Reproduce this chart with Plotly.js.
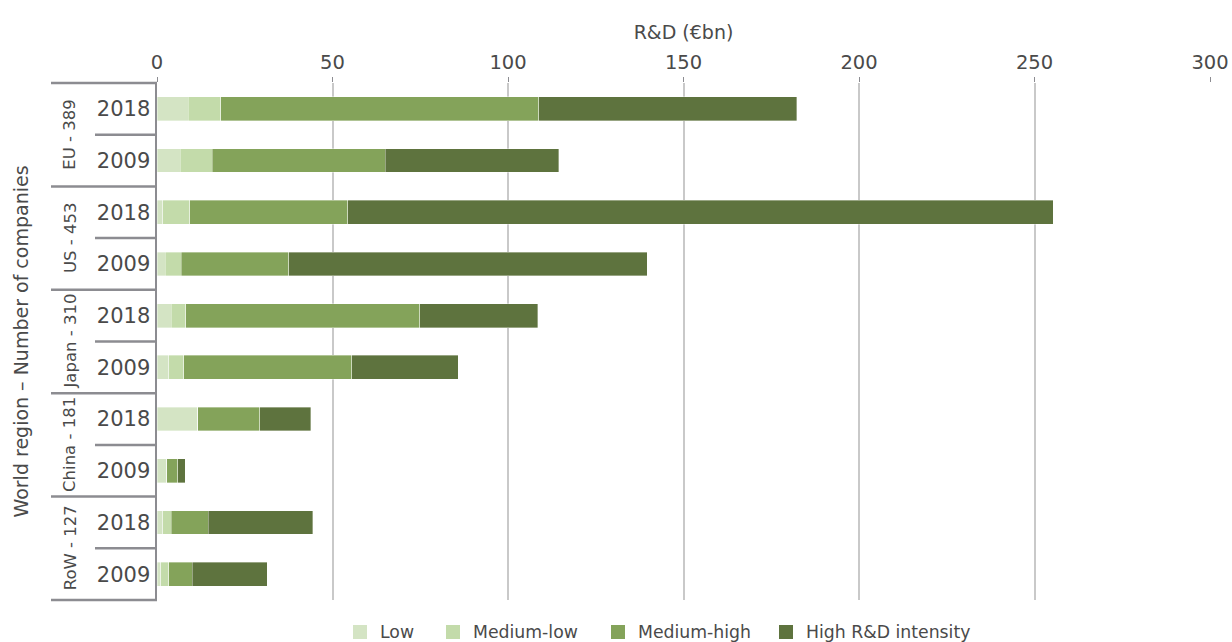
<!DOCTYPE html>
<html>
<head>
<meta charset="utf-8">
<script src="https://cdn.plot.ly/plotly-3.0.1.min.js"></script>
<style>html,body{margin:0;padding:0;background:#fff;}#chart{width:1232px;height:642px;}</style>
</head>
<body>
<div id="chart"></div>
<script>
// Regions (with number of companies) and years, top to bottom
const regions = ['EU - 389', 'US - 453', 'Japan - 310', 'China - 181', 'RoW - 127'];
const years = ['2018', '2009'];
// Values in € bn, order: EU 2018, EU 2009, US 2018, US 2009, Japan 2018, Japan 2009, China 2018, China 2009, RoW 2018, RoW 2009
const low        = [8.9, 6.6, 1.7, 2.3, 4.1, 3.4, 11.6, 2.8, 1.7, 1.0];
const mediumLow  = [9.2, 9.2, 7.6, 4.6, 4.1, 4.2, 0.0, 0.0, 2.4, 2.4];
const mediumHigh = [90.7, 49.2, 45.1, 30.6, 66.6, 47.9, 17.7, 3.1, 10.5, 6.6];
const high       = [73.5, 49.5, 200.9, 102.1, 33.7, 30.3, 14.5, 2.2, 29.8, 21.4];
const seriesNames = ['Low', 'Medium-low', 'Medium-high', 'High R&D intensity'];
const colors = ['#d4e4c4', '#c3dbaa', '#84a35a', '#5e733e'];
const xTicks = [0, 50, 100, 150, 200, 250, 300];

const FONT = 'DejaVu Sans, Verdana, sans-serif';
const TXT = '#4a4a4a';
const W = 1232, H = 642, ML = 157, MR = 22, MT = 83, MB = 42;
const PW = W - ML - MR, PH = H - MT - MB;

const cats = [];
const yearLabels = [];
regions.forEach(r => years.forEach(y => { cats.push(r + '|' + y); yearLabels.push(y); }));
const n = cats.length;

const vals = [low, mediumLow, mediumHigh, high];
const traces = vals.map((v, i) => ({
  type: 'bar', orientation: 'h', name: seriesNames[i],
  y: cats, x: v,
  marker: {color: colors[i], line: {color: 'rgba(255,255,255,0.6)', width: 0.6}},
  hoverinfo: 'x+name'
}));

const shapes = [];
const annotations = [];
const lineStyle = {color: '#8c8c91', width: 2.5};
// region boundaries (long) and year separators (short)
for (let k = 0; k <= n; k++) {
  const yp = 1 - k / n;
  const isRegion = k % years.length === 0;
  shapes.push({type: 'line', xref: 'paper', yref: 'paper',
    x0: isRegion ? (51 - ML) / PW : (95 - ML) / PW, x1: 0, y0: yp, y1: yp, line: lineStyle});
}
regions.forEach((r, i) => {
  annotations.push({xref: 'paper', yref: 'paper', x: (70 - ML) / PW, y: 1 - (i * years.length + years.length / 2) / n,
    text: r, showarrow: false, textangle: -90, xanchor: 'center', yanchor: 'middle',
    font: {family: FONT, size: 16.5, color: TXT}});
});
// y-axis title
annotations.push({xref: 'paper', yref: 'paper', x: (20 - ML) / PW, y: 0.5, xanchor: 'center', yanchor: 'middle',
  text: 'World region \u2013 Number of companies', showarrow: false, textangle: -90,
  font: {family: FONT, size: 19, color: TXT}});

// legend (squares + labels) below the plot
const legendLeftPx = [353, 446, 611, 779];
const SQ = 14, legendCenterPx = 632;
seriesNames.forEach((name, i) => {
  const x0 = (legendLeftPx[i] - ML) / PW;
  const yc = -(legendCenterPx - (H - MB)) / PH;
  shapes.push({type: 'rect', xref: 'paper', yref: 'paper', x0: x0, x1: x0 + SQ / PW,
    y0: yc - SQ / 2 / PH, y1: yc + SQ / 2 / PH, fillcolor: colors[i], line: {width: 0}});
  annotations.push({xref: 'paper', yref: 'paper', x: x0, xshift: 25, y: yc, xanchor: 'left', yanchor: 'middle',
    text: name, showarrow: false, font: {family: FONT, size: 17.3, color: TXT}});
});

const layout = {
  width: W, height: H,
  margin: {l: ML, r: MR, t: MT, b: MB, autoexpand: false},
  paper_bgcolor: '#fff', plot_bgcolor: '#fff',
  barmode: 'stack', bargap: 0.54,
  font: {family: FONT, color: TXT},
  showlegend: false,
  xaxis: {
    side: 'top', range: [0, 300], tickvals: xTicks, ticks: 'outside', ticklen: 5, tickcolor: '#8c8c91', tickwidth: 1,
    showgrid: true, gridcolor: '#c9c9c9', gridwidth: 2, zeroline: false, showline: false,
    tickfont: {family: FONT, size: 19.5, color: TXT},
    title: {text: 'R&D (€bn)', font: {family: FONT, size: 19, color: TXT}, standoff: 6}
  },
  yaxis: {
    type: 'category', categoryorder: 'array', categoryarray: cats,
    range: [n - 0.5, -0.5], tickvals: cats, ticktext: yearLabels,
    ticks: '', showline: true, linecolor: '#8c8c91', linewidth: 2.5, showgrid: false, zeroline: false,
    tickfont: {family: FONT, size: 21, color: TXT}
  },
  shapes: shapes,
  annotations: annotations
};

Plotly.newPlot('chart', traces, layout, {displayModeBar: false, staticPlot: true});
</script>
</body>
</html>
